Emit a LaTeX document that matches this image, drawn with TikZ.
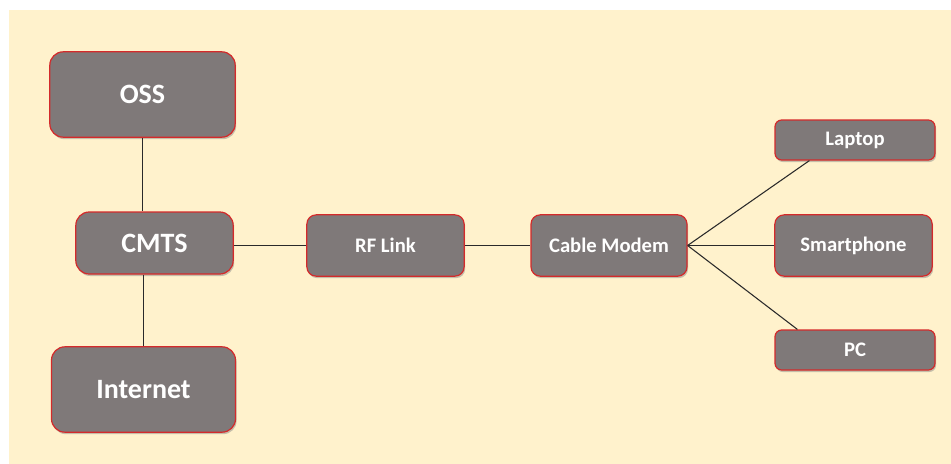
\documentclass[tikz,border=0pt]{standalone}
\usepackage{fontspec}
\setmainfont{Carlito}
\usetikzlibrary{shadows,calc}
\definecolor{bgcol}{HTML}{FFF2CC}
\definecolor{boxfill}{HTML}{7F7979}
\definecolor{boxedge}{HTML}{D42A2A}
\definecolor{linecol}{HTML}{2A2A2A}
\tikzset{
  box/.style={draw=boxedge, line width=0.9pt, fill=boxfill, rounded corners=#1,
    drop shadow={opacity=0.45, shadow xshift=0.8pt, shadow yshift=-1.5pt},
    text=white, font=\bfseries, inner sep=0pt},
  box/.default=9pt,
  bigbox/.style={box=10pt, font=\fontsize{21}{25}\selectfont\bfseries},
  smallbox/.style={box=7pt, font=\fontsize{15.5}{18}\selectfont\bfseries},
  thinbox/.style={box=5pt, font=\fontsize{15.5}{18}\selectfont\bfseries},
  link/.style={draw=linecol, line width=0.8pt}
}
\begin{document}
\begin{tikzpicture}[x=0.75pt, y=-0.75pt]
\useasboundingbox (0,0) rectangle (951,464);
\fill[white] (0,0) rectangle (951,464);
\fill[bgcol] (9,10) rectangle (951,464);

\node[bigbox, minimum width=139pt, minimum height=64pt] (oss) at (142.5,94.5) {OSS};
\node[bigbox, minimum width=118pt, minimum height=46.5pt] (cmts) at (154.5,243) {CMTS};
\node[bigbox, minimum width=138pt, minimum height=64pt] (inet) at (143.5,389.5) {Internet};
\node[smallbox, minimum width=118pt, minimum height=46pt] (rf) at (385.5,245.5) {RF Link};
\node[smallbox, minimum width=117pt, minimum height=46pt] (cm) at (609,245.5) {Cable Modem};
\node[thinbox, minimum width=120pt, minimum height=30pt] (laptop) at (855,140) {Laptop};
\node[smallbox, minimum width=118pt, minimum height=46pt] (phone) at (853.5,245.5) {Smartphone};
\node[thinbox, minimum width=120pt, minimum height=30pt] (pc) at (855,350) {PC};

\coordinate (lapfoot) at ($(laptop.south west)+(35,0)$);
\coordinate (pctop) at ($(pc.north west)+(23,0)$);

\draw[link] (oss.south) -- (oss.south |- cmts.north);
\draw[link] (inet.north |- cmts.south) -- (inet.north);
\draw[link] (rf.west -| cmts.east) -- (rf.west);
\draw[link] (rf.east) -- (cm.west);
\draw[link] (cm.east) -- (lapfoot);
\draw[link] (cm.east) -- (phone.west);
\draw[link] (cm.east) -- (pctop);
\end{tikzpicture}
\end{document}
